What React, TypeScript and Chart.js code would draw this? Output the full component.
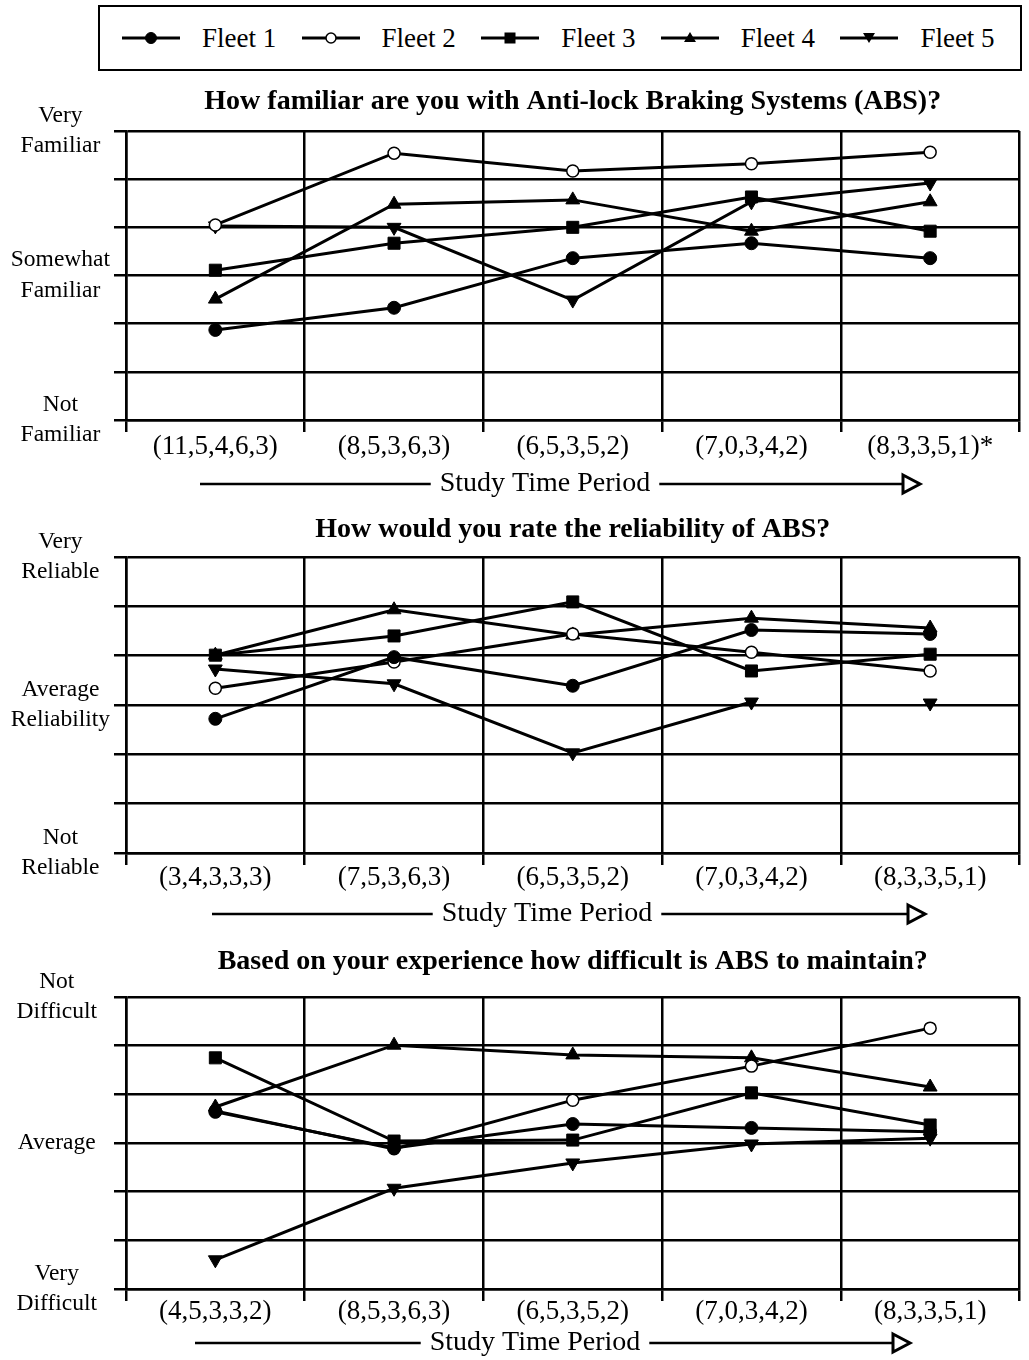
import React, { useEffect, useRef } from 'react';
import { Chart, registerables } from 'chart.js';

Chart.register(...registerables);

const FONT = "'Liberation Serif', 'Times New Roman', serif";

// ---------- data ----------
const fleetNames = ['Fleet 1', 'Fleet 2', 'Fleet 3', 'Fleet 4', 'Fleet 5'];

const familiarityTitle = 'How familiar are you with Anti-lock Braking Systems (ABS)?';
const reliabilityTitle = 'How would you rate the reliability of ABS?';
const maintenanceTitle = 'Based on your experience how difficult is ABS to maintain?';
const axisTitle = 'Study Time Period';

const familiarityPeriods = ['(11,5,4,6,3)', '(8,5,3,6,3)', '(6,5,3,5,2)', '(7,0,3,4,2)', '(8,3,3,5,1)*'];
const reliabilityPeriods = ['(3,4,3,3,3)', '(7,5,3,6,3)', '(6,5,3,5,2)', '(7,0,3,4,2)', '(8,3,3,5,1)'];
const maintenancePeriods = ['(4,5,3,3,2)', '(8,5,3,6,3)', '(6,5,3,5,2)', '(7,0,3,4,2)', '(8,3,3,5,1)'];

const tickLabelValues = [0, 3, 6];
const familiarityTickLabels = [['Not', 'Familiar'], ['Somewhat', 'Familiar'], ['Very', 'Familiar']];
const reliabilityTickLabels = [['Not', 'Reliable'], ['Average', 'Reliability'], ['Very', 'Reliable']];
const maintenanceTickLabels = [['Very', 'Difficult'], ['Average'], ['Not', 'Difficult']];

const familiarityFleet1 = [1.87, 2.33, 3.36, 3.67, 3.36];
const familiarityFleet2 = [4.05, 5.54, 5.17, 5.32, 5.56];
const familiarityFleet3 = [3.11, 3.67, 4.0, 4.63, 3.92];
const familiarityFleet4 = [2.51, 4.48, 4.57, 3.92, 4.53];
const familiarityFleet5 = [4.03, 4.0, 2.49, 4.53, 4.92];

const reliabilityFleet1 = [2.72, 3.97, 3.39, 4.52, 4.44];
const reliabilityFleet2 = [3.34, 3.87, 4.44, 4.07, 3.69];
const reliabilityFleet3 = [4.01, 4.4, 5.09, 3.69, 4.03];
const reliabilityFleet4 = [4.01, 4.93, 4.42, 4.76, 4.56];
const reliabilityFleet5 = [3.73, 3.43, 2.03, 3.06, 3.04];
const reliabilityFleet5BreakAfter = [3];

const maintenanceFleet1 = [3.64, 2.9, 3.39, 3.31, 3.23];
const maintenanceFleet2 = [3.66, 2.88, 3.88, 4.58, 5.36];
const maintenanceFleet3 = [4.75, 3.04, 3.06, 4.03, 3.37];
const maintenanceFleet4 = [3.74, 5.01, 4.81, 4.75, 4.15];
const maintenanceFleet5 = [0.6, 2.07, 2.59, 2.98, 3.1];

// ---------- styles ----------
const markerStyles = [
  { pointStyle: 'circle', radius: 6.5, bg: '#000', rotation: 0, bw: 1 },
  { pointStyle: 'circle', radius: 6, bg: '#fff', rotation: 0, bw: 1.5 },
  { pointStyle: 'rect', radius: 8.5, bg: '#000', rotation: 0, bw: 1 },
  { pointStyle: 'triangle', radius: 8, bg: '#000', rotation: 0, bw: 1 },
  { pointStyle: 'triangle', radius: 8, bg: '#000', rotation: 180, bw: 1 },
];

const studyPeriodArrow = {
  id: 'studyPeriodArrow',
  afterDraw(chart: any, _args: any, opts: any) {
    const { ctx, chartArea } = chart;
    const y = chartArea.bottom + opts.dy;
    ctx.save();
    ctx.font = `28px ${FONT}`;
    ctx.fillStyle = '#000';
    ctx.textAlign = 'center';
    ctx.textBaseline = 'middle';
    ctx.fillText(opts.text, opts.cx, y);
    const w = ctx.measureText(opts.text).width;
    ctx.lineWidth = 2.5;
    ctx.strokeStyle = '#000';
    ctx.beginPath();
    ctx.moveTo(opts.x0, y);
    ctx.lineTo(opts.cx - w / 2 - 9, y);
    ctx.moveTo(opts.cx + w / 2 + 9, y);
    ctx.lineTo(opts.tip - 17, y);
    ctx.stroke();
    ctx.beginPath();
    ctx.moveTo(opts.tip - 17, y - 9);
    ctx.lineTo(opts.tip, y);
    ctx.lineTo(opts.tip - 17, y + 9);
    ctx.closePath();
    ctx.fillStyle = '#fff';
    ctx.fill();
    ctx.lineWidth = 3;
    ctx.stroke();
    ctx.restore();
  },
};

type Panel = {
  top: number;
  height: number;
  title: string;
  titlePad: { top: number; bottom: number };
  periods: string[];
  yLabels: string[][];
  series: number[][];
  breaks?: (number[] | undefined)[];
  xAxisHeight: number;
  xPad: number;
  yPad: number;
  arrow: { dy: number; cx: number; x0: number; tip: number };
};

const panels: Panel[] = [
  {
    top: 80,
    height: 425,
    title: familiarityTitle,
    titlePad: { top: 5.2, bottom: 12.2 },
    periods: familiarityPeriods,
    yLabels: familiarityTickLabels,
    series: [familiarityFleet1, familiarityFleet2, familiarityFleet3, familiarityFleet4, familiarityFleet5],
    xAxisHeight: 85,
    xPad: -1,
    yPad: 4,
    arrow: { dy: 64, cx: 545, x0: 200, tip: 920 },
  },
  {
    top: 505,
    height: 430,
    title: reliabilityTitle,
    titlePad: { top: 8.2, bottom: 10.2 },
    periods: reliabilityPeriods,
    yLabels: reliabilityTickLabels,
    series: [reliabilityFleet1, reliabilityFleet2, reliabilityFleet3, reliabilityFleet4, reliabilityFleet5],
    breaks: [undefined, undefined, undefined, undefined, reliabilityFleet5BreakAfter],
    xAxisHeight: 82,
    xPad: -3,
    yPad: 4,
    arrow: { dy: 61, cx: 547, x0: 212, tip: 925 },
  },
  {
    top: 935,
    height: 425,
    title: maintenanceTitle,
    titlePad: { top: 10.2, bottom: 18.2 },
    periods: maintenancePeriods,
    yLabels: maintenanceTickLabels,
    series: [maintenanceFleet1, maintenanceFleet2, maintenanceFleet3, maintenanceFleet4, maintenanceFleet5],
    xAxisHeight: 71,
    xPad: -5,
    yPad: 17,
    arrow: { dy: 54, cx: 535, x0: 195, tip: 910 },
  },
];

function buildConfig(p: Panel): any {
  return {
    type: 'line',
    data: {
      labels: p.periods,
      datasets: p.series.map((values, i) => {
        const m = markerStyles[i];
        const brk = p.breaks ? p.breaks[i] : undefined;
        return {
          label: fleetNames[i],
          data: values,
          borderColor: '#000',
          borderWidth: 3,
          tension: 0,
          fill: false,
          pointStyle: m.pointStyle,
          pointRadius: m.radius,
          pointRotation: m.rotation,
          pointBackgroundColor: m.bg,
          pointBorderColor: '#000',
          pointBorderWidth: m.bw,
          segment: brk
            ? { borderColor: (ctx: any) => (brk.includes(ctx.p0DataIndex) ? 'rgba(0,0,0,0)' : '#000') }
            : undefined,
        };
      }),
    },
    options: {
      animation: false,
      responsive: false,
      events: [],
      layout: { padding: { left: 0, right: 4, top: 0, bottom: 0 } },
      plugins: {
        legend: { display: false },
        tooltip: { enabled: false },
        title: {
          display: true,
          text: p.title,
          fullSize: false,
          color: '#000',
          font: { family: FONT, size: 28, weight: 'bold', lineHeight: 1.2 },
          padding: p.titlePad,
        },
        studyPeriodArrow: { text: axisTitle, ...p.arrow },
      },
      scales: {
        x: {
          type: 'category',
          offset: true,
          grid: { offset: true, color: '#000', lineWidth: 2.5, tickLength: 12, drawTicks: true },
          border: { color: '#000', width: 2.5 },
          ticks: {
            color: '#000',
            font: { family: FONT, size: 27 },
            padding: p.xPad,
            maxRotation: 0,
            autoSkip: false,
          },
          afterFit(s: any) {
            s.height = p.xAxisHeight;
          },
        },
        y: {
          min: 0,
          max: 6,
          grid: { color: '#000', lineWidth: 2.5, tickLength: 12, drawTicks: true },
          border: { color: '#000', width: 2.5 },
          ticks: {
            stepSize: 1,
            autoSkip: false,
            color: '#000',
            crossAlign: 'center',
            padding: p.yPad,
            font: { family: FONT, size: 23.5, lineHeight: 1.3 },
            callback: (v: any) => {
              const k = tickLabelValues.indexOf(Number(v));
              return k >= 0 ? p.yLabels[k] : '';
            },
          },
          afterFit(s: any) {
            s.width = 126;
          },
        },
      },
    },
    plugins: [studyPeriodArrow],
  };
}

function PanelChart({ panel }: { panel: Panel }) {
  const ref = useRef<HTMLCanvasElement | null>(null);
  useEffect(() => {
    if (!ref.current) return;
    const chart = new Chart(ref.current, buildConfig(panel));
    return () => chart.destroy();
  }, [panel]);
  return (
    <div style={{ position: 'absolute', left: 0, top: panel.top, width: 1029, height: panel.height }}>
      <canvas ref={ref} width={1029} height={panel.height} style={{ display: 'block', width: 1029, height: panel.height }} />
    </div>
  );
}

function LegendGlyph({ index }: { index: number }) {
  const m = markerStyles[index];
  const cx = 29;
  const cy = 12;
  let marker: React.ReactNode = null;
  if (m.pointStyle === 'circle') {
    marker = <circle cx={cx} cy={cy} r={m.radius - 1} fill={m.bg} stroke="#000" strokeWidth={m.bw} />;
  } else if (m.pointStyle === 'rect') {
    marker = <rect x={cx - 5.5} y={cy - 5.5} width={11} height={11} fill="#000" />;
  } else if (m.rotation === 180) {
    marker = <polygon points={`${cx - 6},${cy - 5} ${cx + 6},${cy - 5} ${cx},${cy + 5}`} fill="#000" />;
  } else {
    marker = <polygon points={`${cx - 6},${cy + 4} ${cx + 6},${cy + 4} ${cx},${cy - 6}`} fill="#000" />;
  }
  return (
    <svg width={58} height={24} style={{ display: 'block' }}>
      <line x1={0} y1={cy} x2={58} y2={cy} stroke="#000" strokeWidth={3} />
      {marker}
    </svg>
  );
}

function Legend() {
  return (
    <div
      style={{
        position: 'absolute',
        left: 98,
        top: 5,
        width: 924,
        height: 66,
        boxSizing: 'border-box',
        border: '2.5px solid #000',
        display: 'flex',
        alignItems: 'center',
        paddingLeft: 22,
        fontFamily: FONT,
        fontSize: 27,
        color: '#000',
        background: '#fff',
      }}
    >
      {fleetNames.map((name, i) => (
        <div key={name} style={{ display: 'flex', alignItems: 'center', width: 180 }}>
          <LegendGlyph index={i} />
          <span style={{ marginLeft: 22, whiteSpace: 'nowrap' }}>{name}</span>
        </div>
      ))}
    </div>
  );
}

export default function App() {
  useEffect(() => {
    const prevMargin = document.body.style.margin;
    const prevOverflow = document.documentElement.style.overflow;
    document.body.style.margin = '0';
    document.documentElement.style.overflow = 'hidden';
    return () => {
      document.body.style.margin = prevMargin;
      document.documentElement.style.overflow = prevOverflow;
    };
  }, []);
  return (
    <div style={{ position: 'relative', width: 1029, height: 1360, overflow: 'hidden', background: '#fff' }}>
      <Legend />
      {panels.map((p) => (
        <PanelChart key={p.title} panel={p} />
      ))}
    </div>
  );
}
